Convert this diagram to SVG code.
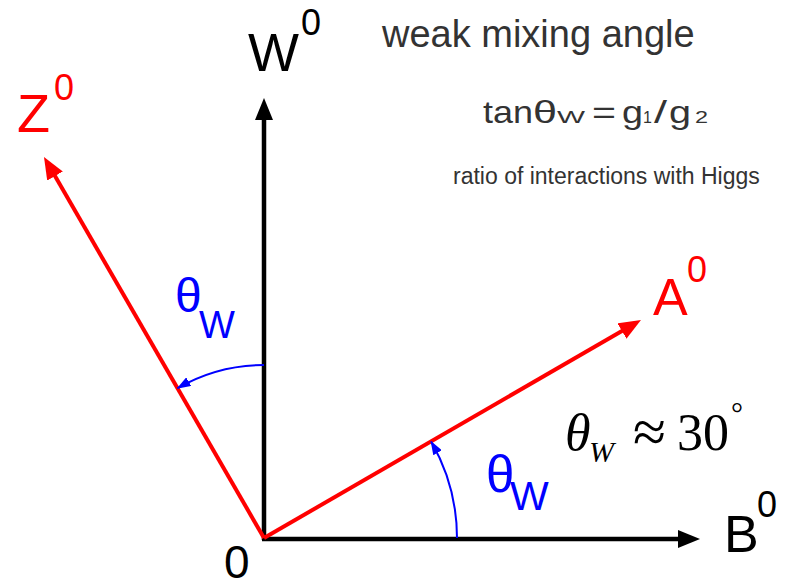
<svg xmlns="http://www.w3.org/2000/svg" width="787" height="587" viewBox="0 0 787 587">
<defs>
<style>
.lbl{font-family:"Liberation Sans",Arial,sans-serif}
.blk{fill:#000}
.red{fill:#ff0000}
.blu{fill:#0000ff}
.note{font-family:"Liberation Sans",Arial,sans-serif;fill:#333}
.tms{font-family:"Liberation Serif","Times New Roman",serif;fill:#000}
.axis{stroke:#000;stroke-width:4.5;fill:none}
.vec{stroke:#ff0000;stroke-width:4;fill:none}
.arc{stroke:#0000ff;stroke-width:2;fill:none}
</style>
<marker id="mBlk" markerUnits="userSpaceOnUse" markerWidth="22" markerHeight="18" refX="4" refY="9" orient="auto" viewBox="0 0 22 18">
<path d="M0,0 L22,9 L0,18 z" fill="#000"/>
</marker>
<marker id="mRed" markerUnits="userSpaceOnUse" markerWidth="22" markerHeight="18" refX="4" refY="9" orient="auto" viewBox="0 0 22 18">
<path d="M0,0 L22,9 L0,18 z" fill="#ff0000"/>
</marker>
<marker id="mBlu" markerUnits="userSpaceOnUse" markerWidth="14" markerHeight="10" refX="13" refY="5" orient="auto" viewBox="0 0 14 10">
<path d="M0,0 L14,5 L0,10 z" fill="#0000ff"/>
</marker>
</defs>
<rect width="787" height="587" fill="#fff"/>
<g id="connectors">
<line class="axis" x1="264" y1="540" x2="264" y2="116" marker-end="url(#mBlk)"/>
<line class="axis" x1="262" y1="539" x2="682" y2="539" marker-end="url(#mBlk)"/>
<line class="vec" x1="264" y1="538" x2="53" y2="172.6" marker-end="url(#mRed)"/>
<line class="vec" x1="264" y1="538" x2="625.4" y2="329" marker-end="url(#mRed)"/>
<path class="arc" d="M 264 365 A 173 173 0 0 0 177.5 388.2" marker-end="url(#mBlu)"/>
<path class="arc" d="M 457 538 A 193 193 0 0 0 431.1 441.5" marker-end="url(#mBlu)"/>
</g>
<g id="node-W0">
<text class="lbl blk" x="248" y="71" font-size="54">W</text>
<text class="lbl blk" x="301" y="35" font-size="36">0</text>
</g>
<g id="node-Z0">
<text class="lbl red" x="17" y="132" font-size="54">Z</text>
<text class="lbl red" x="54" y="100" font-size="36">0</text>
</g>
<g id="node-A0">
<text class="lbl red" x="653" y="315" font-size="52">A</text>
<text class="lbl red" x="687" y="282" font-size="36">0</text>
</g>
<g id="node-B0">
<text class="lbl blk" x="724" y="552" font-size="52">B</text>
<text class="lbl blk" x="757" y="517" font-size="36">0</text>
</g>
<g id="node-origin">
<text class="lbl blk" x="224" y="578" font-size="46">0</text>
</g>
<g id="label-thetaW-upper">
<text class="lbl blu" x="175" y="312" font-size="48">θ</text>
<text class="lbl blu" x="199" y="338" font-size="38">W</text>
</g>
<g id="label-thetaW-lower">
<text class="lbl blu" x="486" y="492" font-size="51">θ</text>
<text class="lbl blu" x="510" y="510" font-size="41">W</text>
</g>
<g id="label-approx">
<text class="tms" x="565" y="450" font-size="52" font-style="italic">θ</text>
<text class="tms" x="589" y="462" font-size="30" font-style="italic">W</text>
<text class="tms" x="633" y="452" font-size="60">≈</text>
<text class="tms" x="677" y="450" font-size="52">30</text>
<text class="tms" x="731" y="423" font-size="30">°</text>
</g>
<g id="title">
<text class="note" x="382" y="47" font-size="38">weak mixing angle</text>
</g>
<g id="formula">
<text class="note" x="483" y="123" font-size="32" textLength="50" lengthAdjust="spacingAndGlyphs">tan</text>
<text class="note" x="533" y="123" font-size="32" textLength="24" lengthAdjust="spacingAndGlyphs">θ</text>
<text class="note" x="557" y="123" font-size="16" textLength="28" lengthAdjust="spacingAndGlyphs">W</text>
<text class="note" x="592" y="123" font-size="32" textLength="24" lengthAdjust="spacingAndGlyphs">=</text>
<text class="note" x="622" y="123" font-size="32" textLength="21" lengthAdjust="spacingAndGlyphs">g</text>
<text class="note" x="643" y="123" font-size="16">1</text>
<text class="note" x="654" y="123" font-size="32" textLength="13" lengthAdjust="spacingAndGlyphs">/</text>
<text class="note" x="669" y="123" font-size="32" textLength="22" lengthAdjust="spacingAndGlyphs">g</text>
<text class="note" x="695" y="123" font-size="16" textLength="13" lengthAdjust="spacingAndGlyphs">2</text>
</g>
<g id="subtitle">
<text class="note" x="453" y="184" font-size="23">ratio of interactions with Higgs</text>
</g>
</svg>
